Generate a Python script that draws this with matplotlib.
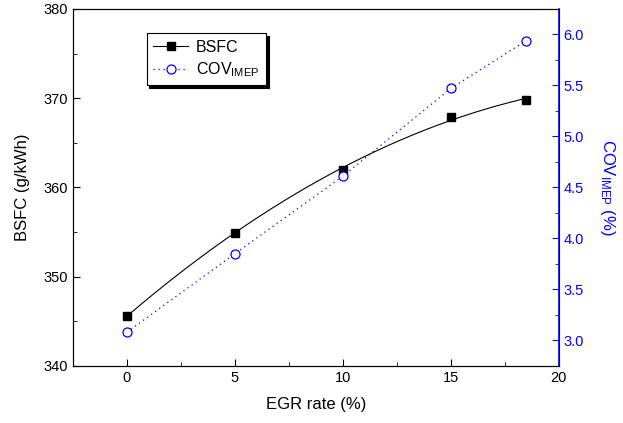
import numpy as np
import matplotlib
matplotlib.use("Agg")
import matplotlib.pyplot as plt

plt.rcParams['font.family'] = ['Liberation Sans', 'DejaVu Sans']
plt.rcParams['mathtext.default'] = 'regular'

# ================= DATA =================
egr = [0, 5, 10, 15, 18.5]
bsfc = [345.6, 354.9, 362.0, 367.9, 369.8]
cov_imep = [3.08, 3.85, 4.61, 5.47, 5.94]

# ================= FIGURE =================
fig = plt.figure(figsize=(6.23, 4.23), dpi=100)
ax = fig.add_axes([0.117, 0.135, 0.780, 0.844])
ax2 = ax.twinx()

# BSFC: smooth fitted curve + square markers
coef = np.polyfit(egr, bsfc, 2)
xs = np.linspace(egr[0], egr[-1], 200)
ax.plot(xs, np.polyval(coef, xs), color='black', lw=0.8)
ax.plot(egr, bsfc, 's', color='black', ms=5.5)

# COV IMEP on right axis
ax2.plot(egr, cov_imep, color='blue', ls=(0, (1, 3)), lw=0.9,
         marker='o', mfc='white', mec='blue', ms=6.5, mew=0.9)

ax.set_xlim(-2.5, 20)
ax.set_ylim(340, 380)
ax2.set_ylim(2.75, 6.25)

ax.set_xticks([0, 5, 10, 15, 20])
ax.set_xticks([2.5, 7.5, 12.5, 17.5], minor=True)
ax.set_yticks([340, 350, 360, 370, 380])
ax.set_yticks([345, 355, 365, 375], minor=True)
ax2.set_yticks([3.0, 3.5, 4.0, 4.5, 5.0, 5.5, 6.0])
ax2.set_yticks(np.arange(3.25, 6.1, 0.5), minor=True)
ax2.set_yticklabels(['3.0', '3.5', '4.0', '4.5', '5.0', '5.5', '6.0'])

ax.tick_params(which='both', direction='in', labelsize=10.5, top=False)
ax.tick_params(which='major', length=5)
ax.tick_params(which='minor', length=3)
ax2.tick_params(which='both', direction='in', colors='blue', labelsize=10.5)
ax2.tick_params(which='major', length=5)
ax2.tick_params(which='minor', length=3)
ax2.spines['right'].set_color('blue')
ax2.spines['right'].set_linewidth(1.2)

ax.set_xlabel('EGR rate (%)', fontsize=12, labelpad=9)
ax.set_ylabel('BSFC (g/kWh)', fontsize=12, labelpad=10)
ax2.set_ylabel('COV$_{IMEP}$ (%)', fontsize=12, color='blue', rotation=270, labelpad=24)

# legend with handles from both axes
h1 = plt.Line2D([], [], color='black', lw=0.8, marker='s', ms=5.5)
h2 = plt.Line2D([], [], color='blue', ls=(0, (1, 3)), lw=0.9,
                marker='o', mfc='white', mec='blue', ms=6.5, mew=0.9)
leg = ax.legend([h1, h2], ['BSFC', 'COV$_{IMEP}$'], loc='upper left',
                bbox_to_anchor=(0.142, 0.945), fontsize=11.5, frameon=True,
                fancybox=False, shadow={'color': 'black', 'alpha': 1},
                handlelength=2.2, borderpad=0.4, labelspacing=0.35,
                handletextpad=0.5, borderaxespad=0.3)
leg.get_frame().set_edgecolor('black')
leg.get_frame().set_linewidth(0.8)

fig.savefig('out.png', dpi=100)
